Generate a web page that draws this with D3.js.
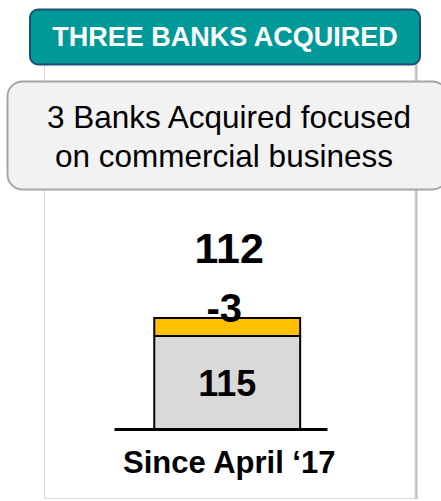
<!DOCTYPE html>
<html lang="en">
<head>
    <meta charset="utf-8">
    <script src="https://cdn.jsdelivr.net/npm/d3@7"></script>
    <style type="text/css">
        body { margin: 0; background: #fff; }
        svg { display: block; font-family: "Liberation Sans", Arial, sans-serif; }
    </style>
</head>
<body>
    <script>
        // values
        let categories = ["Since April \u201817"];
        let startValues = [115];
        let changeValues = [-3];
        let endValues = [112];
        let headerText = "THREE BANKS ACQUIRED";
        let noteLines = ["3 Banks Acquired focused", "on commercial business"];

        let w = 441;
        let h = 501;
        let svg = d3.select("body")
                    .append("svg")
                    .attr("width", w)
                    .attr("height", h);

        // white panel with grey shadow on the right
        svg.append("rect")
            .attr("x", 44.5).attr("y", 60).attr("width", 373).attr("height", 439)
            .attr("fill", "#bfbfbf");
        svg.append("rect")
            .attr("x", 44.5).attr("y", 60).attr("width", 370.5).attr("height", 438.5)
            .attr("fill", "#fff")
            .attr("stroke", "#d9d9d9")
            .attr("stroke-width", 1);

        // header
        svg.append("rect")
            .attr("x", 30).attr("y", 9.5).attr("width", 390).attr("height", 55)
            .attr("rx", 8)
            .attr("fill", "#009999")
            .attr("stroke", "#1f4e79")
            .attr("stroke-width", 2);
        svg.append("text")
            .attr("x", 225).attr("y", 46)
            .attr("text-anchor", "middle")
            .attr("font-size", "27px")
            .attr("font-weight", "bold")
            .attr("fill", "#fff")
            .text(headerText);

        // note box
        svg.append("rect")
            .attr("x", 7.5).attr("y", 81.5).attr("width", 440).attr("height", 108)
            .attr("rx", 15)
            .attr("fill", "#f2f2f2")
            .attr("stroke", "#a6a6a6")
            .attr("stroke-width", 2);
        svg.selectAll(".note")
            .data(noteLines)
            .enter()
            .append("text")
            .attr("class", "note")
            .attr("x", (d, i) => i == 0 ? 229 : 224)
            .attr("y", (d, i) => 128 + i * 39)
            .attr("text-anchor", "middle")
            .attr("font-size", "31.5px")
            .attr("fill", "#000")
            .text((d) => d);

        // chart: truncated value axis, as in the original
        let xScale = d3.scaleBand()
                        .domain(categories)
                        .range([114, 327])
                        .paddingInner(0)
                        .paddingOuter(0.23)
                        .align(0.6);
        let yScale = d3.scaleLinear()
                        .domain([96.5, 120])
                        .range([429, 288]);

        let bars = categories.map((c, i) => ({
            cat: c, start: startValues[i], change: changeValues[i], end: endValues[i]
        }));

        // base bar up to the ending value
        svg.selectAll(".base")
            .data(bars)
            .enter()
            .append("rect")
            .attr("class", "base")
            .attr("x", (d) => xScale(d.cat))
            .attr("y", (d) => yScale(d.end))
            .attr("width", xScale.bandwidth())
            .attr("height", (d) => yScale(yScale.domain()[0]) - yScale(d.end))
            .attr("fill", "#d9d9d9")
            .attr("stroke", "#000")
            .attr("stroke-width", 2);

        // the change segment
        svg.selectAll(".chg")
            .data(bars)
            .enter()
            .append("rect")
            .attr("class", "chg")
            .attr("x", (d) => xScale(d.cat))
            .attr("y", (d) => yScale(d.start))
            .attr("width", xScale.bandwidth())
            .attr("height", (d) => yScale(d.end) - yScale(d.start))
            .attr("fill", "#ffc000")
            .attr("stroke", "#000")
            .attr("stroke-width", 2);

        let cx = (d) => xScale(d.cat) + xScale.bandwidth() / 2;

        svg.selectAll(".lbl-start")
            .data(bars)
            .enter()
            .append("text")
            .attr("x", cx)
            .attr("y", (d) => yScale(d.end) + 60)
            .attr("text-anchor", "middle")
            .attr("font-size", "36px")
            .attr("font-weight", "bold")
            .text((d) => d.start);

        svg.selectAll(".lbl-chg")
            .data(bars)
            .enter()
            .append("text")
            .attr("x", (d) => cx(d) - 3)
            .attr("y", (d) => yScale(d.start) + 4)
            .attr("text-anchor", "middle")
            .attr("font-size", "40px")
            .attr("font-weight", "bold")
            .text((d) => d.change);

        svg.selectAll(".lbl-end")
            .data(bars)
            .enter()
            .append("text")
            .attr("x", (d) => cx(d) + 2)
            .attr("y", (d) => yScale(d.start) - 55)
            .attr("text-anchor", "middle")
            .attr("font-size", "43px")
            .attr("font-weight", "bold")
            .text((d) => d.end);

        // axis line and category label
        let xAxis = d3.axisBottom(xScale).tickSize(0).tickPadding(22);
        let gx = svg.append("g")
            .attr("transform", "translate(0, 429)")
            .call(xAxis);
        gx.select(".domain").attr("stroke", "#000").attr("stroke-width", 3);
        gx.selectAll("text")
            .attr("font-size", "31px")
            .attr("font-weight", "bold")
            .attr("font-family", "Liberation Sans, Arial, sans-serif")
            .attr("fill", "#000")
            .attr("dx", 2);
    </script>
</body>
</html>
